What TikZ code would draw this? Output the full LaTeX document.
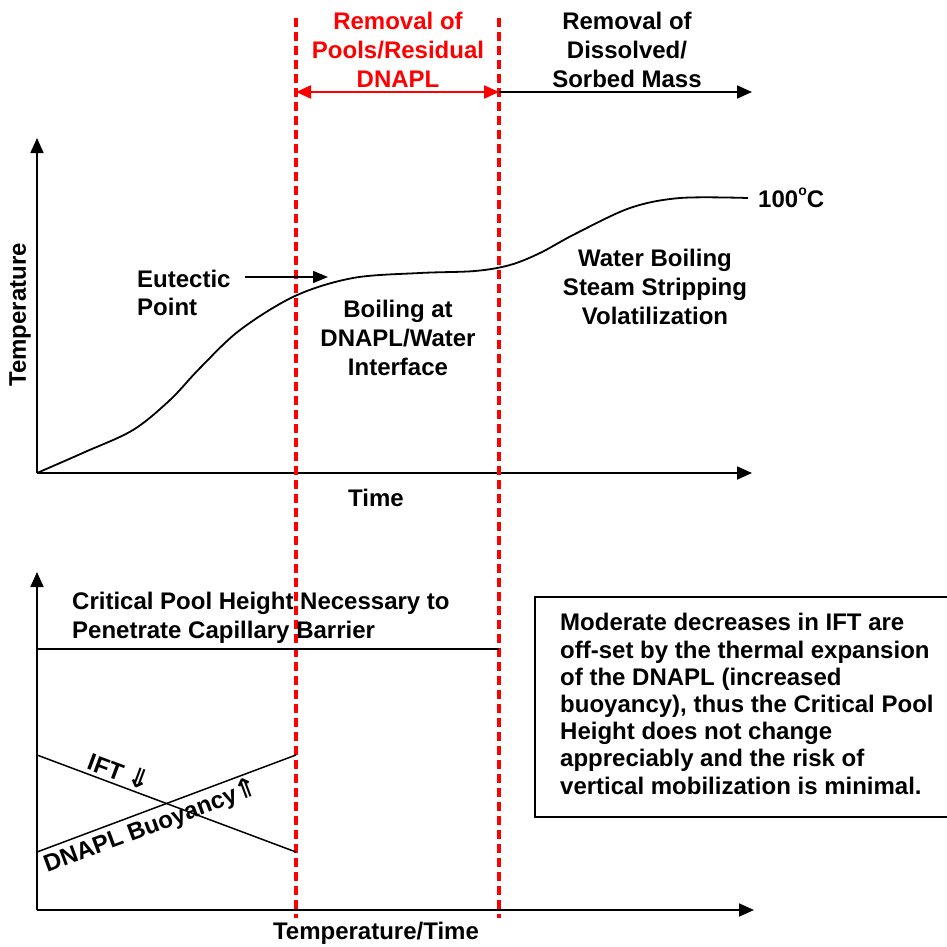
\documentclass[tikz,border=0pt]{standalone}
\usepackage{fontspec}
\setmainfont{Liberation Sans}
\newfontfamily\symfont{DejaVu Sans}
\usetikzlibrary{arrows.meta}
\begin{document}
\begin{tikzpicture}[x=1pt,y=-1pt,
  lbl/.style={font=\fontsize{24}{28.8}\selectfont\bfseries, inner sep=0pt},
  axis/.style={line width=1.8pt, -{Triangle[length=15pt,width=13pt]}},
  reddash/.style={red, line width=3.2pt, dash pattern=on 9pt off 5pt},
  thin/.style={line width=1.5pt}]
\useasboundingbox (0,0) rectangle (946,947);
% coordinates
\coordinate (o1) at (37,473);
\coordinate (t1) at (37,138);
\coordinate (x1) at (752,473);
\coordinate (o2) at (37,910);
\coordinate (t2) at (37,572);
\coordinate (x2) at (754,910);
\coordinate (ra) at (296,18);
\coordinate (rb) at (296,918);
\coordinate (rc) at (499,18);
\coordinate (rd) at (499,918);
\coordinate (ha) at (296,92);
\coordinate (hb) at (499,92);
\coordinate (hc) at (752,92);
% axes
\draw[axis] (o1) -- (t1);
\draw[axis] (o1) -- (x1);
\draw[axis] (o2) -- (t2);
\draw[axis] (o2) -- (x2);
% curve
\draw[line width=1.8pt] plot[smooth, tension=0.55] coordinates {(37,473) (85,452) (133,430) (170,400) (200,368) (240,330) (295,296) (353,278) (420,273) (475,271) (510,265) (540,253) (575,234) (630,208) (680,198) (748,198)};
% red dashed lines
\draw[reddash] (ra) -- (rb);
\draw[reddash] (rc) -- (rd);
% arrows at top
\draw[red, line width=2.2pt, {Triangle[length=15pt,width=13pt]}-{Triangle[length=15pt,width=13pt]}] (ha) -- (hb);
\draw[line width=1.8pt, -{Triangle[length=15pt,width=13pt]}] (hb) -- (hc);
% top labels
\node[lbl, red, align=center] (rem1) at (398,50) {Removal of\\Pools/Residual\\DNAPL};
\node[lbl, align=center] (rem2) at (627,50) {Removal of\\Dissolved/\\Sorbed Mass};
\node[lbl, anchor=west] (hund) at (758,198) {100\raisebox{0.95ex}{\fontsize{14}{14}\selectfont o}C};
\node[lbl, align=left, anchor=west] (eut) at (137,293) {Eutectic\\Point};
\coordinate (eutA) at (245,277);
\coordinate (eutB) at (328,277);
\draw[thin, -{Triangle[length=15pt,width=12pt]}] (eutA) -- (eutB);
\node[lbl, align=center] (boil) at (398,338) {Boiling at\\DNAPL/Water\\Interface};
\node[lbl, align=center] (wat) at (655,287) {Water Boiling\\Steam Stripping\\Volatilization};
\node[lbl, rotate=90] (temp) at (20,315) {Temperature};
\node[lbl] (time) at (376,498) {Time};
% bottom
\node[lbl, align=left, anchor=west] (crit) at (72,618) {Critical Pool Height Necessary to\\Penetrate Capillary Barrier};
\coordinate (cpA) at (37,649);
\coordinate (cpB) at (499,649);
\draw[thin] (cpA) -- (cpB);
\coordinate (iA) at (37,755);
\coordinate (iB) at (296,852);
\coordinate (bA) at (37,852);
\coordinate (bB) at (296,755);
\draw[thin] (iA) -- (iB);
\draw[thin] (bA) -- (bB);
\node[lbl, rotate=-20.5] (ift) at (120,771) {IFT {\symfont\fontsize{27}{27}\selectfont ⇓}};
\node[lbl, rotate=20.5] (buoy) at (151,826) {DNAPL Buoyancy{\symfont\fontsize{27}{27}\selectfont ⇑}};
\node[lbl] (tt) at (376,933) {Temperature/Time};
\draw[line width=1.8pt] (535,597) rectangle (952,817);
\node[lbl, align=left, anchor=west, font=\fontsize{24}{27.2}\selectfont\bfseries] (box) at (560,704) {Moderate decreases in IFT are\\off-set by the thermal expansion\\of the DNAPL (increased\\buoyancy), thus the Critical Pool\\Height does not change\\appreciably and the risk of\\vertical mobilization is minimal.};
\end{tikzpicture}
\end{document}
